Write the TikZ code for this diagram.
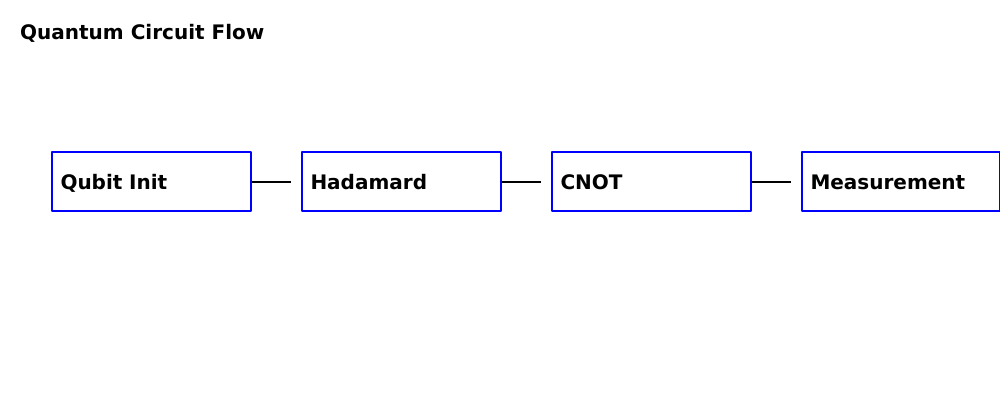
\documentclass[tikz,border=0pt]{standalone}
\usepackage{fontspec}
\setmainfont{DejaVu Sans}
\usetikzlibrary{positioning}
\tikzset{stage/.style={draw=blue, line width=2pt, minimum width=199pt, minimum height=59pt, inner sep=0pt, anchor=north west, text width=199pt, text height=18pt, text depth=2pt, align=left, font=\bfseries\fontsize{20}{24}\selectfont}, link/.style={line width=2pt, black}}

\begin{document}
\begin{tikzpicture}[x=1pt,y=-1pt,line join=bevel]
%%
\useasboundingbox (0,0) rectangle (1000,400);
  \node (title) at (20,33) [anchor=west, inner sep=0pt, font=\bfseries\fontsize{20}{24}\selectfont] {Quantum Circuit Flow};
  \node (init) at (51,151) [stage] {\hspace*{8.5pt}Qubit Init};
  \node (had) at (301,151) [stage] {\hspace*{8.5pt}Hadamard};
  \node (cnot) at (551,151) [stage] {\hspace*{8.5pt}CNOT};
  \node (meas) at (801,151) [stage, minimum width=198pt, text width=198pt] {\hspace*{8.5pt}Measurement};
  \coordinate (e1) at (291,181);
  \coordinate (e2) at (541,181);
  \coordinate (e3) at (791,181);
  \draw [link] (init.east) -- (init.east -| e1);
  \draw [link] (had.east) -- (had.east -| e2);
  \draw [link] (cnot.east) -- (cnot.east -| e3);
%
\end{tikzpicture}
\end{document}
